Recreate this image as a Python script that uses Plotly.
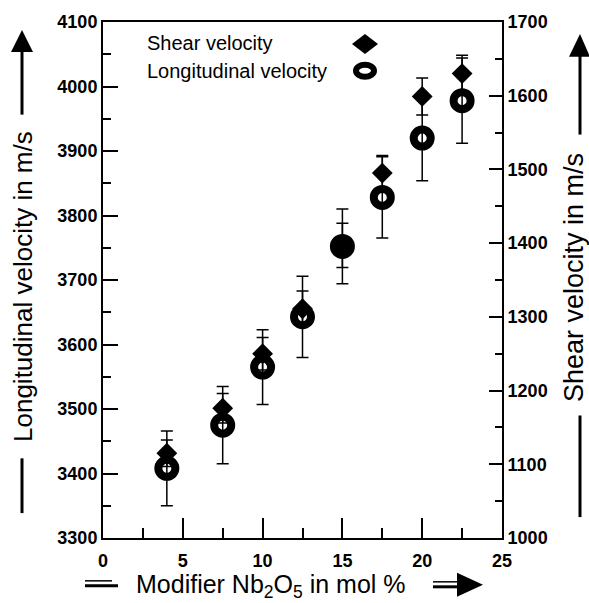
import plotly.graph_objects as go

# ---- data ----
mol_pct = [4, 7.5, 10, 12.5, 15, 17.5, 20, 22.5]
long_vel = [3408, 3475, 3565, 3643, 3752, 3828, 3920, 3978]
long_err = [58, 60, 58, 63, 58, 63, 66, 66]
shear_vel = [1115, 1176, 1250, 1311, 1397, 1495, 1599, 1630]
shear_err = [18, 20, 22, 24, 30, 24, 25, 25]

x_ticks = [0, 5, 10, 15, 20, 25]
left_ticks = list(range(3300, 4101, 100))
right_ticks = list(range(1000, 1701, 100))

W, H = 589, 603
L, R, T, B = 103, 87, 20, 65
PW, PH = W - L - R, H - T - B

def px(x):
    return (x - L) / PW

def py(y):
    return (H - B - y) / PH

FONT = "Liberation Sans, Arial, sans-serif"

fig = go.Figure()

fig.add_trace(go.Scatter(
    x=mol_pct, y=shear_vel, yaxis="y2", mode="markers",
    name="Shear velocity",
    marker=dict(symbol="diamond", size=16, color="black"),
    error_y=dict(type="data", array=shear_err, color="black", thickness=1.5, width=6),
))
fig.add_trace(go.Scatter(
    x=mol_pct, y=long_vel, mode="markers",
    name="Longitudinal velocity",
    marker=dict(symbol="circle-open", size=17, color="black", line=dict(width=8, color="black")),
    error_y=dict(type="data", array=long_err, color="black", thickness=1.5, width=6),
))

shapes = []
ln = dict(color="black", width=3)
# left title arrow & line
shapes.append(dict(type="line", xref="paper", yref="paper", x0=px(22), x1=px(22), y0=py(113), y1=py(46), line=ln))
shapes.append(dict(type="path", xref="paper", yref="paper",
                   path=f"M {px(11)} {py(50)} L {px(33)} {py(50)} L {px(22)} {py(28)} Z",
                   fillcolor="black", line=dict(width=0)))
shapes.append(dict(type="line", xref="paper", yref="paper", x0=px(22), x1=px(22), y0=py(458), y1=py(513), line=ln))
# right title arrow & line
shapes.append(dict(type="line", xref="paper", yref="paper", x0=px(580), x1=px(580), y0=py(133), y1=py(52), line=ln))
shapes.append(dict(type="path", xref="paper", yref="paper",
                   path=f"M {px(569)} {py(55)} L {px(590)} {py(55)} L {px(580)} {py(32)} Z",
                   fillcolor="black", line=dict(width=0)))
shapes.append(dict(type="line", xref="paper", yref="paper", x0=px(580), x1=px(580), y0=py(415), y1=py(517), line=ln))
# x title double line and arrow
shapes.append(dict(type="line", xref="paper", yref="paper", x0=px(85), x1=px(118), y0=py(586), y1=py(586), line=dict(color="black", width=3)))
shapes.append(dict(type="line", xref="paper", yref="paper", x0=px(85), x1=px(112), y0=py(581), y1=py(581), line=dict(color="black", width=1.5)))
shapes.append(dict(type="line", xref="paper", yref="paper", x0=px(433), x1=px(462), y0=py(587), y1=py(587), line=dict(color="black", width=3)))
shapes.append(dict(type="line", xref="paper", yref="paper", x0=px(433), x1=px(460), y0=py(582), y1=py(582), line=dict(color="black", width=1.5)))
shapes.append(dict(type="path", xref="paper", yref="paper",
                   path=f"M {px(457)} {py(573)} L {px(483)} {py(585)} L {px(457)} {py(597)} Z",
                   fillcolor="black", line=dict(width=0)))
# legend keys
shapes.append(dict(type="path", xref="paper", yref="paper",
                   path=f"M {px(352)} {py(42)} L {px(365)} {py(32)} L {px(378)} {py(42)} L {px(365)} {py(52)} Z",
                   fillcolor="black", line=dict(width=0)))
shapes.append(dict(type="circle", xref="paper", yref="paper",
                   x0=px(356), x1=px(374), y0=py(75), y1=py(63),
                   line=dict(color="black", width=6)))

annotations = [
    dict(text="Shear velocity", xref="paper", yref="paper", x=px(145), y=py(41),
         xanchor="left", yanchor="middle", showarrow=False, font=dict(family=FONT, size=20, color="black")),
    dict(text="Longitudinal velocity", xref="paper", yref="paper", x=px(145), y=py(69),
         xanchor="left", yanchor="middle", showarrow=False, font=dict(family=FONT, size=20, color="black")),
    dict(text="Longitudinal velocity in m/s", xref="paper", yref="paper", x=px(23), y=py(286),
         xanchor="center", yanchor="middle", textangle=-90, showarrow=False,
         font=dict(family=FONT, size=26, color="black")),
    dict(text="Shear velocity in m/s", xref="paper", yref="paper", x=px(574), y=py(277),
         xanchor="center", yanchor="middle", textangle=-90, showarrow=False,
         font=dict(family=FONT, size=27, color="black")),
    dict(text="Modifier Nb<sub>2</sub>O<sub>5</sub> in mol %", xref="paper", yref="paper", x=px(271), y=py(586),
         xanchor="center", yanchor="middle", showarrow=False,
         font=dict(family=FONT, size=25, color="black")),
]

tickfont = dict(family=FONT, size=18, color="black", weight="bold")

fig.update_layout(
    width=W, height=H,
    margin=dict(l=L, r=R, t=T, b=B),
    paper_bgcolor="white", plot_bgcolor="white",
    showlegend=False,
    shapes=shapes, annotations=annotations,
    xaxis=dict(range=[0, 25], tickvals=x_ticks, ticks="inside", ticklen=20, tickwidth=2,
               tickcolor="black", showline=True, linecolor="black", linewidth=2, mirror=True,
               showgrid=False, zeroline=False, tickfont=tickfont, ticklabelstandoff=5,
               minor=dict(dtick=2.5, ticks="inside", ticklen=10, tickwidth=2, tickcolor="black", showgrid=False)),
    yaxis=dict(range=[3300, 4100], tickvals=left_ticks, ticks="inside", ticklen=15, tickwidth=2,
               tickcolor="black", showline=True, linecolor="black", linewidth=2,
               showgrid=False, zeroline=False, tickfont=tickfont,
               minor=dict(dtick=50, ticks="inside", ticklen=8, tickwidth=2, tickcolor="black", showgrid=False)),
    yaxis2=dict(range=[1000, 1700], tickvals=right_ticks, overlaying="y", side="right",
                ticks="inside", ticklen=13, tickwidth=2, tickcolor="black", showline=True,
                linecolor="black", linewidth=2, showgrid=False, zeroline=False, tickfont=tickfont,
                minor=dict(dtick=50, ticks="inside", ticklen=7, tickwidth=2, tickcolor="black", showgrid=False)),
)

fig.write_html("out.html")
